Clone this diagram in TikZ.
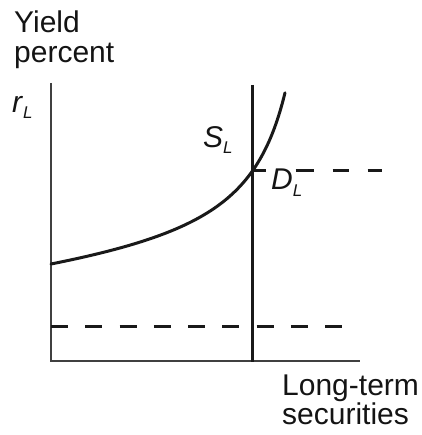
\documentclass[tikz,border=0pt]{standalone}
\usepackage{fontspec}
\setmainfont{Liberation Sans}
\newcommand{\lblsub}[2]{\textit{#1}\raisebox{-6pt}{\fontsize{17}{17}\selectfont\textit{#2}}}

\begin{document}
\begin{tikzpicture}[
  x=1pt,y=-1pt,
  every node/.style={font=\fontsize{30}{30}\selectfont,inner sep=0pt,anchor=base west,text=black!92},
  twoline/.style={align=left,font=\fontsize{30}{#1}\selectfont},
  axis/.style={line width=1.8pt,draw=black!75},
  supply/.style={line width=3pt,draw=black!90},
  demand/.style={line width=3pt,draw=black!90,line cap=round},
  level/.style={line width=3pt,draw=black!90}
]
\useasboundingbox (0,0) rectangle (421,435);
% axes
\coordinate (ytop) at (51,83);
\coordinate (o) at (51,361);
\coordinate (xend) at (360,361);
\draw[axis] (ytop)--(o)--(xend);
% supply of long-term securities
\coordinate (stop) at (252.5,85);
\coordinate (sbot) at (252.5,362);
\draw[supply] (stop)--(sbot);
% demand curve
\draw[demand] plot[domain=0:234,samples=90] ({51+\x},{264-0.1*\x-27.6*\x/(277.7-\x)});
% interest rate levels
\coordinate (eq) at (252.5,171);
\coordinate (hiR) at (382,171);
\coordinate (lowL) at (51,326);
\coordinate (lowR) at (343,326);
\draw[level,dash pattern=on 13pt off 30pt on 18pt off 19pt on 16pt off 19pt on 15pt off 10pt] (eq)--(hiR);
\draw[level,dash pattern=on 17pt off 17.25pt] (lowL)--(lowR);
% labels (base = last line)
\node[twoline=30] (ylab) at (14,63) {Yield\\percent};
\node (rl) at (12,113) {\lblsub{r}{L}};
\node (sl) at (203,148) {\lblsub{S}{L}};
\node (dl) at (271,190) {\lblsub{D}{L}};
\node[twoline=26] (xlab) at (282,424) {Long-term\\securities};
\end{tikzpicture}
\end{document}
